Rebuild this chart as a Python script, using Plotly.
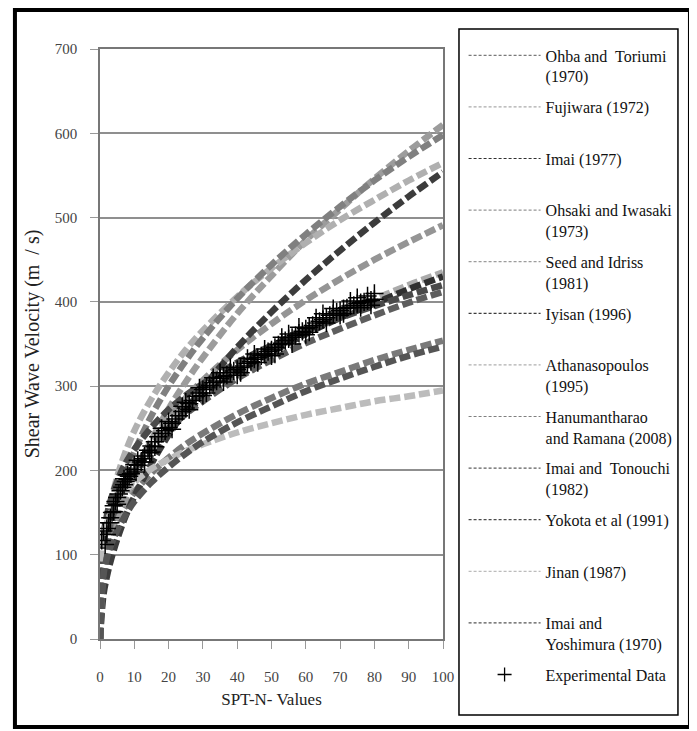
import plotly.graph_objects as go

# SPT-N values at which the empirical correlations are plotted
N = [0, 1, 2, 3, 5, 7, 10, 15, 20, 25, 30, 40, 50, 60, 70, 80, 90, 100]

ohba_toriumi   = [0, 85, 105, 120, 140, 155, 174, 197, 215, 231, 244, 267, 286, 303, 317, 331, 343, 354]
fujiwara       = [0, 92, 116, 133, 158, 177, 200, 229, 253, 273, 290, 319, 344, 366, 386, 403, 420, 435]
imai_1977      = [0, 91, 115, 132, 157, 175, 198, 227, 250, 269, 286, 316, 340, 362, 381, 398, 415, 430]
ohsaki_iwasaki = [0, 81, 107, 125, 153, 174, 200, 234, 262, 286, 307, 343, 374, 402, 427, 450, 471, 491]
seed_idriss    = [0, 61, 86, 106, 136, 161, 193, 236, 273, 305, 334, 386, 431, 473, 510, 546, 579, 610]
iyisan         = [0, 52, 74, 91, 118, 141, 169, 208, 242, 271, 298, 346, 388, 426, 461, 494, 525, 554]
athanasopoulos = [0, 108, 138, 160, 192, 217, 247, 285, 316, 343, 366, 406, 440, 470, 497, 521, 544, 565]
hanumantharao  = [0, 83, 111, 133, 165, 191, 222, 265, 300, 330, 357, 404, 444, 480, 513, 544, 572, 598]
imai_tonouchi  = [0, 97, 121, 137, 161, 179, 200, 227, 249, 267, 282, 309, 331, 351, 368, 384, 399, 412]
yokota         = [0, 121, 146, 163, 187, 205, 225, 251, 272, 289, 303, 328, 348, 366, 381, 395, 408, 420]
jinan          = [92, 123, 138, 148, 163, 174, 186, 202, 213, 223, 231, 245, 256, 266, 274, 282, 288, 295]
imai_yoshimura = [0, 76, 96, 109, 129, 144, 163, 186, 204, 220, 234, 257, 276, 294, 309, 323, 336, 347]

exp_n = [0.5, 1, 1.5, 2, 2.5, 3, 3.5, 4, 4.5, 5, 5.5, 6, 6.5, 7, 7.5, 8, 8.5, 9, 10, 10.5,
         11, 12, 12.5, 13, 14, 14.5, 15, 16, 17, 18, 19, 20, 21, 22, 23, 24, 25, 26, 27, 28,
         29, 30, 31, 32, 33, 34, 35, 36, 37, 38, 39, 40, 41, 42, 43, 44, 45, 46, 47, 48,
         49, 50, 51, 52, 53, 54, 55, 56, 57, 58, 59, 60, 61, 62, 63, 64, 65, 66, 67, 68,
         69, 70, 71, 72, 73, 74, 75, 76, 77, 78, 79, 80,
         5, 8, 11, 13, 16, 18, 21, 24, 26, 29, 31, 33, 36, 38, 41, 43, 46, 48, 51, 53,
         56, 58, 61, 63, 66, 68, 71, 73, 76, 78, 79, 80, 75, 70, 65, 60, 55, 50, 45, 40,
         35, 30, 25, 20, 15, 10, 7, 4, 3, 2]
exp_v = [117, 128, 112, 131, 138, 144, 150, 158, 163, 168, 172, 176, 180, 183, 187, 189, 193, 196, 201, 198,
         206, 210, 214, 217, 224, 221, 229, 234, 240, 244, 247, 251, 256, 261, 265, 270, 274, 279, 283, 288,
         292, 296, 299, 301, 304, 306, 309, 311, 313, 316, 318, 320, 322, 324, 327, 329, 332, 334, 336, 338,
         341, 343, 346, 349, 351, 354, 356, 358, 360, 363, 365, 368, 370, 372, 375, 377, 379, 381, 384, 386,
         388, 390, 392, 393, 395, 396, 398, 399, 400, 401, 402, 403,
         160, 195, 212, 210, 228, 250, 249, 276, 272, 298, 292, 310, 305, 322, 316, 333, 328, 344, 338, 358,
         350, 370, 364, 381, 375, 392, 386, 401, 393, 407, 396, 410, 405, 384, 386, 361, 362, 336, 338, 313,
         316, 289, 281, 258, 222, 207, 190, 151, 138, 124]

names = ["Ohba and  Toriumi<br>(1970)", "Fujiwara (1972)", "Imai (1977)",
         "Ohsaki and Iwasaki<br>(1973)", "Seed and Idriss<br>(1981)", "Iyisan (1996)",
         "Athanasopoulos<br>(1995)", "Hanumantharao<br>and Ramana (2008)",
         "Imai and  Tonouchi<br>(1982)", "Yokota et al (1991)", "Jinan (1987)",
         "Imai and<br>Yoshimura (1970)"]
series = [ohba_toriumi, fujiwara, imai_1977, ohsaki_iwasaki, seed_idriss, iyisan,
          athanasopoulos, hanumantharao, imai_tonouchi, yokota, jinan, imai_yoshimura]
colors = ["#7a7a7a", "#ababab", "#303030", "#959595", "#9c9c9c", "#3c3c3c",
          "#b0b0b0", "#808080", "#5e5e5e", "#4a4a4a", "#bcbcbc", "#555555"]

SERIF = "Liberation Serif"
fig = go.Figure()

for vals, col in zip(series, colors):
    fig.add_trace(go.Scatter(x=N, y=vals, mode="lines", showlegend=False,
                             line=dict(color=col, width=6.5, dash="11px,4px", shape="spline")))

fig.add_trace(go.Scatter(x=exp_n, y=exp_v, mode="markers", showlegend=False,
                         marker=dict(symbol="cross-thin", size=13, color="black",
                                     line=dict(color="black", width=1.5))))

# legend proxies
for i, (nm, col) in enumerate(zip(names, colors)):
    label = nm if "<br>" in nm else nm + "<br>\u00a0"
    fig.add_trace(go.Scatter(x=[None], y=[None], mode="lines", name=label,
                             legendgroup=str(i),
                             line=dict(color=col, width=1.2, dash="3px,2px")))
fig.add_trace(go.Scatter(x=[None], y=[None], mode="markers", name="Experimental Data",
                         legendgroup="exp",
                         marker=dict(symbol="cross-thin", size=10, color="black",
                                     line=dict(color="black", width=1.3))))

# the page body adds an 8px offset, so the figure is laid out 8px smaller
fig.update_layout(
    width=689, height=723,
    margin=dict(l=92, r=254, t=41, b=92, autoexpand=False),
    paper_bgcolor="white", plot_bgcolor="white",
    font=dict(family=SERIF, color="#222"),
    showlegend=True,
    legend=dict(x=1.06, y=1.018, xanchor="left", yanchor="top",
                font=dict(family=SERIF, size=16, color="#111"),
                bgcolor="rgba(0,0,0,0)", borderwidth=0,
                itemwidth=72, valign="top", tracegroupgap=7,
                traceorder="grouped", maxheight=720),
    xaxis=dict(range=[0, 100], dtick=10, tick0=0, showgrid=False,
               showline=True, linecolor="#777", linewidth=1.5, mirror=True,
               ticks="outside", ticklen=8, tickcolor="#999",
               tickfont=dict(family=SERIF, size=15, color="#444"),
               ticklabelstandoff=15,
               title=dict(text="SPT-N- Values", font=dict(family=SERIF, size=17, color="#222"),
                          standoff=9),
               zeroline=False),
    yaxis=dict(range=[0, 700], dtick=100, tick0=0, showgrid=True,
               gridcolor="#8f8f8f", gridwidth=1.5,
               showline=True, linecolor="#777", linewidth=1.5, mirror=True,
               ticks="outside", ticklen=8, tickcolor="#999",
               tickfont=dict(family=SERIF, size=15, color="#444"),
               ticklabelstandoff=10,
               title=dict(text="Shear Wave Velocity (m  / s)",
                          font=dict(family=SERIF, size=20, color="#222"), standoff=10),
               zeroline=False),
    shapes=[
        dict(type="rect", xref="paper", yref="paper", x0=-0.248, x1=1.72, y0=-0.149, y1=1.066,
             line=dict(color="black", width=4), layer="above"),
        dict(type="rect", xref="paper", yref="paper", x0=1.0466, x1=1.685, y0=-0.129, y1=1.034,
             line=dict(color="black", width=1.5), layer="above"),
    ],
)

fig.write_html("out.html")
